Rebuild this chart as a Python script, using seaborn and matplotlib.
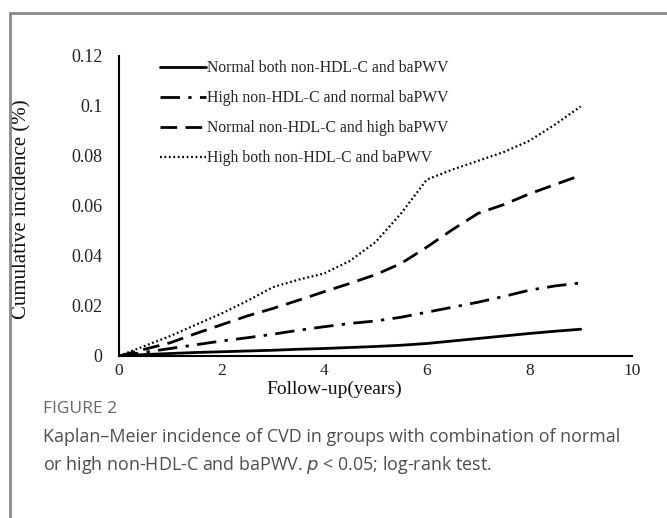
import matplotlib
matplotlib.use("Agg")
import matplotlib.pyplot as plt
import seaborn as sns
import pandas as pd
import numpy as np
from matplotlib.ticker import FuncFormatter
from matplotlib.lines import Line2D

# ---- data ----
years = [0, 0.5, 1, 1.5, 2, 2.5, 3, 3.5, 4, 4.5, 5, 5.5, 6, 6.5, 7, 7.5, 8, 8.5, 9]
normal_both = [0, 0.0006, 0.001, 0.0014, 0.0017, 0.002, 0.0023, 0.0027, 0.003, 0.0034,
               0.0038, 0.0043, 0.005, 0.006, 0.007, 0.008, 0.009, 0.0099, 0.0107]
high_nonhdl_normal_pwv = [0, 0.0015, 0.003, 0.0045, 0.006, 0.0073, 0.0087, 0.0103, 0.0117, 0.013,
                          0.014, 0.0155, 0.0175, 0.0195, 0.0215, 0.0238, 0.0263, 0.028, 0.0292]
normal_nonhdl_high_pwv = [0, 0.0027, 0.0053, 0.009, 0.0125, 0.016, 0.019, 0.0223, 0.0257, 0.029,
                          0.0325, 0.037, 0.0435, 0.0505, 0.057, 0.0605, 0.0648, 0.0685, 0.0722]
high_both = [0, 0.004, 0.008, 0.0125, 0.017, 0.022, 0.0275, 0.0305, 0.033, 0.038,
             0.0455, 0.057, 0.0705, 0.0745, 0.078, 0.0815, 0.086, 0.0925, 0.0997]
labels = ["Normal both non-HDL-C and baPWV",
          "High non-HDL-C and normal baPWV",
          "Normal non-HDL-C and high baPWV",
          "High both non-HDL-C and baPWV"]
x_ticks = [0, 2, 4, 6, 8, 10]
y_ticks = [0, 0.02, 0.04, 0.06, 0.08, 0.1, 0.12]

series = [normal_both, high_nonhdl_normal_pwv, normal_nonhdl_high_pwv, high_both]
df = pd.concat([pd.DataFrame({"years": years, "inc": s, "group": lab})
                for s, lab in zip(series, labels)], ignore_index=True)

sns.set_style("white")
plt.rcParams["font.family"] = ["Liberation Serif", "DejaVu Serif"]

fig = plt.figure(figsize=(6.67, 5.18), dpi=100)
W, H = 667, 518
ax = fig.add_axes([119 / W, 1 - 356 / H, (632 - 119) / W, (356 - 55.7) / H])

styles = {
    labels[0]: dict(ls="-", lw=2.0),
    labels[1]: dict(ls=(0, (7, 3, 1.2, 3)), lw=2.0),
    labels[2]: dict(ls=(0, (6, 3)), lw=2.0),
    labels[3]: dict(ls=(0, (0.8, 1.2)), lw=1.6),
}
for lab in labels:
    sub = df[df["group"] == lab]
    sns.lineplot(data=sub, x="years", y="inc", ax=ax, color="black",
                 linestyle=styles[lab]["ls"], linewidth=styles[lab]["lw"],
                 label=lab, legend=False)

ax.set_xlim(0, 10)
ax.set_ylim(0, 0.12)
ax.set_xticks(x_ticks)
ax.set_yticks(y_ticks)
ax.yaxis.set_major_formatter(FuncFormatter(lambda v, p: "0" if v == 0 else f"{v:g}"))
for s in ["top", "right"]:
    ax.spines[s].set_visible(False)
for s in ["left", "bottom"]:
    ax.spines[s].set_color("black")
    ax.spines[s].set_linewidth(1.5)
ax.tick_params(direction="in", length=4, width=1.2, colors="black",
               labelsize=13, labelcolor="#222222")
ax.tick_params(axis="y", pad=12)
ax.tick_params(axis="x", pad=5, labelsize=12.5)

ax.set_xlabel("Follow-up(years)", fontsize=14, color="#111111")
ax.set_ylabel("Cumulative incidence (%)", fontsize=15, color="#111111")
ax.xaxis.set_label_coords((334 - 119) / 513, -0.083)
ax.yaxis.set_label_coords((31 - 119) / 513, 0.49)

handles = [Line2D([], [], color="black", linestyle=styles[l]["ls"], linewidth=styles[l]["lw"])
           for l in labels]
leg = ax.legend(handles, labels, loc="upper left", bbox_to_anchor=(160 / W, 1 - 60 / H),
                bbox_transform=fig.transFigure, frameon=False, fontsize=11.3,
                handlelength=2.9, handletextpad=0.12, labelspacing=0.9,
                borderpad=0, borderaxespad=0)

# figure frame (gray lines top and left)
fig.add_artist(Line2D([9.5 / W, 9.5 / W], [0, 1 - 13 / H], color="#8a8a8a", lw=2,
                      transform=fig.transFigure))
fig.add_artist(Line2D([9.5 / W, 1], [1 - 13 / H, 1 - 13 / H], color="#8a8a8a", lw=2,
                      transform=fig.transFigure))

cap_font = ["Open Sans", "DejaVu Sans"]
fig.text(43 / W, 1 - 409 / H, "FIGURE 2", fontsize=12.5, color="#666666",
         family=cap_font, va="center", ha="left")
fig.text(43 / W, 1 - 437 / H,
         "Kaplan\u2013Meier incidence of CVD in groups with combination of normal",
         fontsize=12.9, color="#4d4d4d", family=cap_font, va="center", ha="left")
fig.text(43 / W, 1 - 465 / H,
         r"or high non-HDL-C and baPWV. $\mathit{p}$ < 0.05; log-rank test.",
         fontsize=12.9, color="#4d4d4d", family=cap_font, va="center", ha="left")

fig.savefig("out.png", dpi=100)
